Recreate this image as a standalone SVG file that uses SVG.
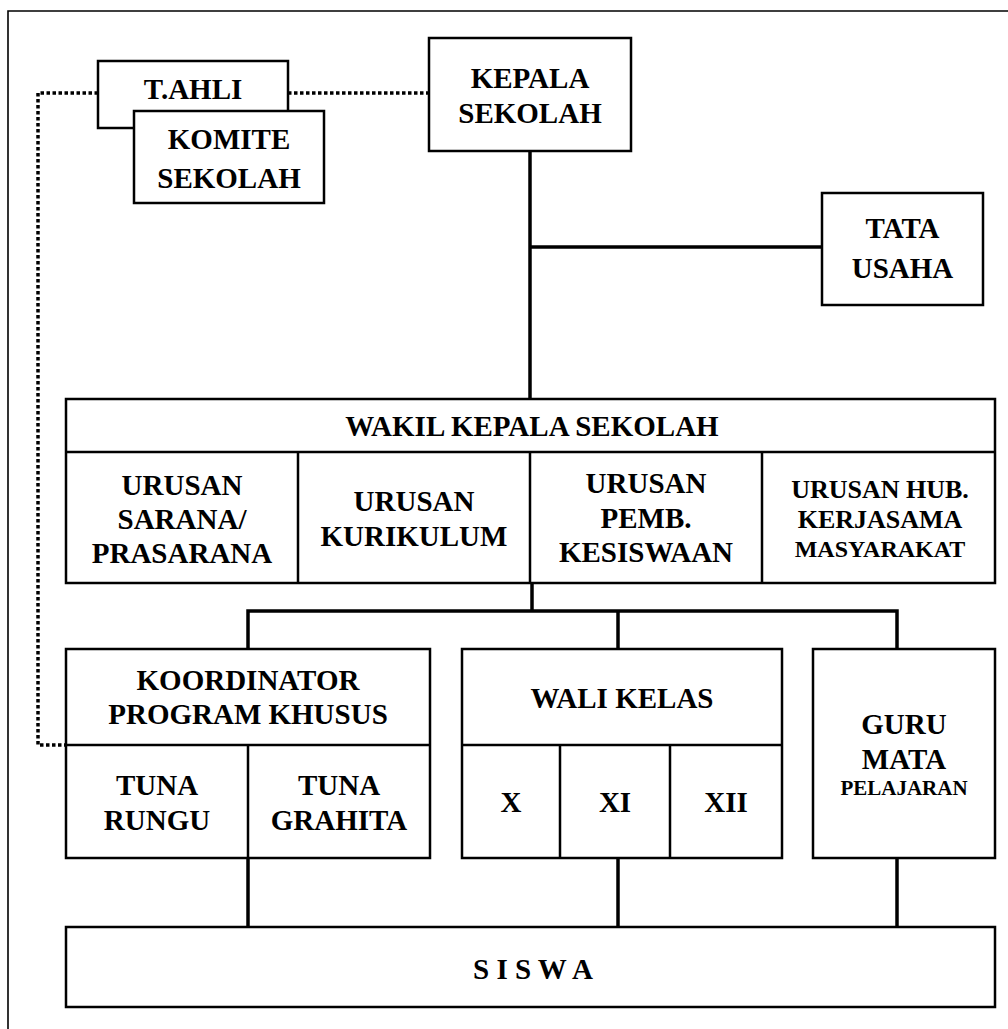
<svg xmlns="http://www.w3.org/2000/svg" width="1008" height="1029" viewBox="0 0 1008 1029">
<style>
  .box { fill: #fff; stroke: #000; stroke-width: 2.5; }
  .div { fill: none; stroke: #000; stroke-width: 2.5; }
  .conn { fill: none; stroke: #000; stroke-width: 3.5; }
  .dot { fill: none; stroke: #000; stroke-width: 3.5; stroke-dasharray: 3.5 2.5; }
  text { font-family: "Liberation Serif", "Times New Roman", serif; font-weight: bold; font-size: 29px; fill: #000; text-anchor: middle; }
  .s26 { font-size: 26px; }
  .s24 { font-size: 24px; }
  .s21 { font-size: 21px; }
</style>
<rect width="1008" height="1029" fill="#fff"/>
<path d="M8,1030 V11 H1009" fill="none" stroke="#000" stroke-width="1.6"/>

<g id="connectors">
  <path class="dot" d="M98,93 H38 V745 H66"/>
  <path class="dot" d="M288,93 H429"/>
  <path class="conn" d="M530,151 V399"/>
  <path class="conn" d="M530,247 H822"/>
  <path class="conn" d="M532,584 V611"/>
  <path class="conn" d="M248,649 V611 H897 V649"/>
  <path class="conn" d="M618,611 V649"/>
  <path class="conn" d="M248,858 V927"/>
  <path class="conn" d="M618,858 V927"/>
  <path class="conn" d="M897,858 V927"/>
</g>

<g id="tahli">
  <rect class="box" x="98" y="61" width="190" height="67"/>
  <text x="193" y="99">T.AHLI</text>
</g>
<g id="komite">
  <rect class="box" x="134" y="111" width="190" height="92"/>
  <text x="229" y="149">KOMITE</text>
  <text x="229" y="188">SEKOLAH</text>
</g>
<g id="kepala">
  <rect class="box" x="429" y="38" width="202" height="113"/>
  <text x="530" y="88">KEPALA</text>
  <text x="530" y="123">SEKOLAH</text>
</g>
<g id="tatausaha">
  <rect class="box" x="822" y="193" width="161" height="112"/>
  <text x="902.5" y="238">TATA</text>
  <text x="902.5" y="278">USAHA</text>
</g>

<g id="wakil">
  <rect class="box" x="66" y="399" width="929" height="184"/>
  <path class="div" d="M66,452 H995 M298,452 V583 M530,452 V583 M762,452 V583"/>
  <text x="532" y="436">WAKIL KEPALA SEKOLAH</text>
  <g id="urusan-sarana">
    <text x="182" y="495">URUSAN</text>
    <text x="182" y="529">SARANA/</text>
    <text x="182" y="563">PRASARANA</text>
  </g>
  <g id="urusan-kurikulum">
    <text x="414" y="511">URUSAN</text>
    <text x="414" y="546">KURIKULUM</text>
  </g>
  <g id="urusan-kesiswaan">
    <text x="646" y="493">URUSAN</text>
    <text x="646" y="528">PEMB.</text>
    <text x="646" y="562">KESISWAAN</text>
  </g>
  <g id="urusan-hub">
    <text class="s26" x="880" y="498">URUSAN HUB.</text>
    <text class="s26" x="880" y="528">KERJASAMA</text>
    <text class="s24" x="880" y="557">MASYARAKAT</text>
  </g>
</g>

<g id="koordinator">
  <rect class="box" x="66" y="649" width="364" height="209"/>
  <path class="div" d="M66,745 H430 M248,745 V858"/>
  <text x="248" y="690">KOORDINATOR</text>
  <text x="248" y="724">PROGRAM KHUSUS</text>
  <g id="tuna-rungu">
    <text x="157" y="795">TUNA</text>
    <text x="157" y="830">RUNGU</text>
  </g>
  <g id="tuna-grahita">
    <text x="339" y="795">TUNA</text>
    <text x="339" y="830">GRAHITA</text>
  </g>
</g>

<g id="walikelas">
  <rect class="box" x="462" y="649" width="320" height="209"/>
  <path class="div" d="M462,745 H782 M560,745 V858 M670,745 V858"/>
  <text x="622" y="708">WALI KELAS</text>
  <text x="511" y="812">X</text>
  <text x="615" y="812">XI</text>
  <text x="726" y="812">XII</text>
</g>

<g id="guru">
  <rect class="box" x="813" y="649" width="182" height="209"/>
  <text x="904" y="734">GURU</text>
  <text x="904" y="769">MATA</text>
  <text class="s21" x="904" y="795">PELAJARAN</text>
</g>

<g id="siswa">
  <rect class="box" x="66" y="927" width="929" height="80"/>
  <text x="533" y="979">S I S W A</text>
</g>
</svg>
